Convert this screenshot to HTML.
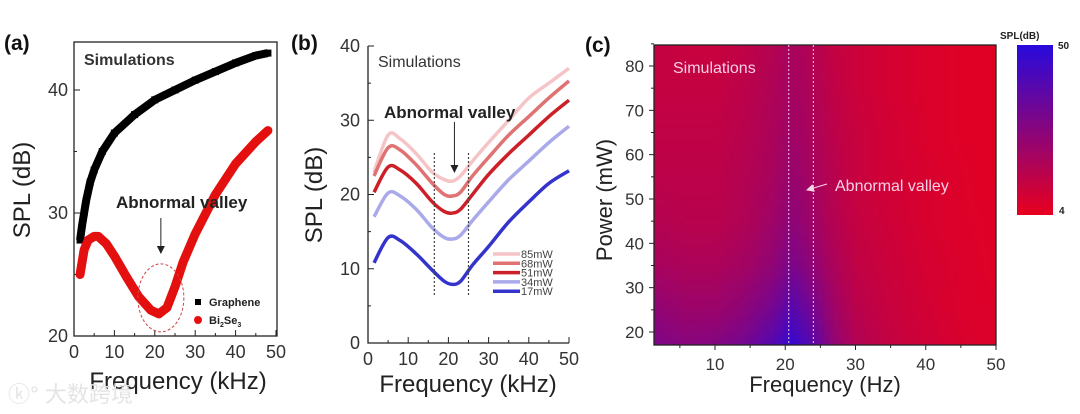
<!DOCTYPE html>
<html><head><meta charset="utf-8">
<style>
body{margin:0;background:#fff;}
svg{display:block;font-family:"Liberation Sans","Noto Sans CJK SC",sans-serif;}
</style></head>
<body>
<svg id="fig" width="1080" height="414" viewBox="0 0 1080 414">
<defs>
<clipPath id="clipC"><rect x="654" y="45" width="342" height="300"/></clipPath>
<linearGradient id="cbar" x1="0" y1="0" x2="0" y2="1"><stop offset="0" stop-color="rgb(40,10,220)"/><stop offset="0.5" stop-color="rgb(136,5,125)"/><stop offset="1" stop-color="rgb(232,0,30)"/></linearGradient>
<marker id="ah" markerWidth="8" markerHeight="8" refX="7" refY="4" orient="auto"><path d="M0,0 L8,4 L0,8 z" fill="#222"/></marker>
<marker id="ahw" markerWidth="8" markerHeight="8" refX="7" refY="4" orient="auto"><path d="M0,0 L8,4 L0,8 z" fill="#f6d8e8"/></marker>
</defs>
<g id="pa"></g>
<g id="pb"></g>
<g id="pc"></g>
<text x="8" y="402" font-size="22" fill="#e4e4e4">ⓚ° 大数跨境</text>
</svg>
<script>
// Panel (a) data
const aFreq = [1.5,2,2.5,3,4,5,7,10,15,20,25,30,35,40,45,48];
const aGraphene = [27.8,29,30,31,32.5,33.5,35,36.5,38,39.2,40,40.8,41.5,42.2,42.8,43];
const aFreqBi = [1.5,2,2.5,3.5,5,6,8,10,13,16,19,21,23,25,27,30,35,40,45,48];
const aBi2Se3 = [25,26,27,27.8,28.1,28.1,27.5,26.5,24.8,23.2,22.1,21.8,22.3,24,26,28.3,31.5,34,35.8,36.7];
const aXTicks = [0,10,20,30,40,50];
const aYTicks = [20,30,40];
// Panel (b) data
const bFreq = [1.5,5,8,12,16,19,21,23,26,30,35,40,45,50];
const bLabels = ["85mW","68mW","51mW","34mW","17mW"];
const b85 = [23,28,27.5,25.5,23,22,21.8,22.5,24.5,27,30,33,35,37];
const b68 = [22.5,26.3,26,24,21.5,20,19.8,20.3,22.5,25,28,30.5,33,35.3];
const b51 = [20.3,23.7,23.3,21.5,19,17.7,17.5,18,20,22.7,25.5,28,30.5,32.7];
const b34 = [17,20.2,19.8,18,15.5,14.2,14,14.5,16.5,19,22,24.5,27,29.2];
const b17 = [10.8,14.2,13.8,12,9.8,8.3,7.9,8.3,10.5,13,16.3,19,21.5,23.2];
const bXTicks = [0,10,20,30,40,50];
const bYTicks = [0,10,20,30,40];
// Panel (c) data
const cFreq = [2,6,10,14,18,21,24,27,30,35,40,45,50];
const cPower = [85,75,65,55,45,35,25,17];
const cSPL = [
[18,17,17,19,22,25,22,18,16,13,11,9,8],
[18,18,18,20,23,26,23,19,16,13,11,9,8],
[19,19,19,21,24,27,24,20,17,14,11,9,8],
[20,20,20,22,25,29,25,21,17,14,12,10,8],
[22,21,21,23,27,31,27,22,18,15,12,10,9],
[25,24,24,26,30,35,30,24,19,16,13,11,9],
[30,28,28,31,36,42,36,27,21,17,14,11,10],
[34,32,33,36,42,48,41,30,23,18,15,12,10]];
const cXTicks = [10,20,30,40,50];
const cYTicks = [20,30,40,50,60,70,80];

const NS="http://www.w3.org/2000/svg";
function mk(parent,tag,attrs,text){const e=document.createElementNS(NS,tag);for(const k in attrs)e.setAttribute(k,attrs[k]);if(text!==undefined)e.textContent=text;parent.appendChild(e);return e;}
function lin(d0,d1,r0,r1){return v=>r0+(v-d0)*(r1-r0)/(d1-d0);}

// ---------- Panel A ----------
(function(){
const g=document.getElementById('pa');
const x=lin(0,50,74,276), y=lin(20,30,336,213);
let e=mk(g,'rect',{x:74,y:42,width:203,height:294,fill:'none',stroke:'#222','stroke-width':1.3});

for(let v=0;v<=50;v+=5){const t=mk(g,'line',{x1:x(v),x2:x(v),y1:336,y2:336-(v%10?3:6),stroke:'#222'});}
for(let v=20;v<=43;v+=5){const t=mk(g,'line',{x1:74,x2:74+(v%10?3:6),y1:y(v),y2:y(v),stroke:'#222'});}
aXTicks.forEach(v=>{const t=mk(g,'text',{x:x(v),y:358,'font-size':18,'text-anchor':'middle',fill:'#333'},v);});
aYTicks.forEach(v=>{const t=mk(g,'text',{x:68,y:y(v)+6,'font-size':18,'text-anchor':'end',fill:'#333'},v);});
const gp=aFreq.map((f,i)=>x(f)+','+y(aGraphene[i])).join(' ');
e=mk(g,'polyline',{points:gp,fill:'none',stroke:'#000','stroke-width':8,'stroke-linejoin':'round'});
aFreq.forEach((f,i)=>{const m=mk(g,'rect',{x:x(f)-3.5,y:y(aGraphene[i])-3.5,width:7,height:7,fill:'#000'});});
const bp=aFreqBi.map((f,i)=>x(f)+','+y(aBi2Se3[i])).join(' ');
e=mk(g,'polyline',{points:bp,fill:'none',stroke:'#e3100f','stroke-width':9,'stroke-linejoin':'round','stroke-linecap':'round'});
aFreqBi.forEach((f,i)=>{const m=mk(g,'circle',{cx:x(f),cy:y(aBi2Se3[i]),r:4,fill:'#e3100f'});});
e=mk(g,'ellipse',{cx:x(21.5),cy:y(23.1),rx:23,ry:34,fill:'none',stroke:'#c44','stroke-width':1,'stroke-dasharray':'3,2'});
e=mk(g,'line',{x1:x(21.5),y1:218,x2:x(21.5),y2:253,stroke:'#222','stroke-width':1,'marker-end':'url(#ah)'});
e=mk(g,'text',{x:116,y:208,'font-size':17,'font-weight':'bold',fill:'#222'},'Abnormal valley');
e=mk(g,'text',{x:84,y:65,'font-size':16,'font-weight':'bold',fill:'#333'},'Simulations');
e=mk(g,'rect',{x:195,y:299,width:6,height:6,fill:'#000'});
e=mk(g,'text',{x:209,y:306,'font-size':11,'font-weight':'bold',fill:'#222'},'Graphene');
e=mk(g,'circle',{cx:198,cy:320,r:4,fill:'#e3100f'});
e=mk(g,'text',{x:209,y:324,'font-size':11,'font-weight':'bold',fill:'#222'});e.innerHTML='Bi<tspan font-size="7" dy="3">2</tspan><tspan dy="-3">Se</tspan><tspan font-size="7" dy="3">3</tspan>';
e=mk(g,'text',{x:30,y:190,'font-size':24,'text-anchor':'middle',fill:'#222',transform:'rotate(-90 30 190)'},'SPL (dB)');
e=mk(g,'text',{x:178,y:389,'font-size':24,'text-anchor':'middle',fill:'#222'},'Frequency (kHz)');
e=mk(g,'text',{x:4,y:50,'font-size':21,'font-weight':'bold',fill:'#111'},'(a)');
})();

// ---------- Panel B ----------
(function(){
const g=document.getElementById('pb');
const x=lin(0,50,368,569), y=lin(0,40,343,46);
let e=mk(g,'path',{d:'M368,46 V343 H569',fill:'none',stroke:'#222','stroke-width':1.3});
for(let v=0;v<=50;v+=5){const t=mk(g,'line',{x1:x(v),x2:x(v),y1:343,y2:343-(v%10?3:6),stroke:'#222'});}
for(let v=0;v<=40;v+=5){const t=mk(g,'line',{x1:368,x2:368+(v%10?3:6),y1:y(v),y2:y(v),stroke:'#222'});}
bXTicks.forEach(v=>{const t=mk(g,'text',{x:x(v),y:365,'font-size':18,'text-anchor':'middle',fill:'#333'},v);});
bYTicks.forEach(v=>{const t=mk(g,'text',{x:360,y:y(v)+6,'font-size':18,'text-anchor':'end',fill:'#333'},v);});
const series=[b85,b68,b51,b34,b17];
const cols=['#f5c4c6','#e07272','#cc1f28','#aaaaea','#3434cc'];
function smooth(pts){let d='M'+pts[0][0]+','+pts[0][1];for(let i=0;i<pts.length-1;i++){const p0=pts[Math.max(0,i-1)],p1=pts[i],p2=pts[i+1],p3=pts[Math.min(pts.length-1,i+2)];d+=' C'+(p1[0]+(p2[0]-p0[0])/6)+','+(p1[1]+(p2[1]-p0[1])/6)+' '+(p2[0]-(p3[0]-p1[0])/6)+','+(p2[1]-(p3[1]-p1[1])/6)+' '+p2[0]+','+p2[1];}return d;}
series.forEach((s,k)=>{const pts=bFreq.map((f,i)=>[x(f),y(s[i])]);const p=mk(g,'path',{d:smooth(pts),fill:'none',stroke:cols[k],'stroke-width':3.5});});
[16.5,25].forEach(f=>{const l=mk(g,'line',{x1:x(f),x2:x(f),y1:153,y2:295,stroke:'#444','stroke-width':1.2,'stroke-dasharray':'2,2'});});
e=mk(g,'line',{x1:x(21.5),y1:122,x2:x(21.5),y2:172,stroke:'#222','stroke-width':1,'marker-end':'url(#ah)'});
e=mk(g,'text',{x:384,y:118,'font-size':17,'font-weight':'bold',fill:'#222'},'Abnormal valley');
e=mk(g,'text',{x:378,y:67,'font-size':16,fill:'#333'},'Simulations');
bLabels.forEach((lab,k)=>{const yy=254+k*9.3;const l=mk(g,'line',{x1:493,x2:520,y1:yy,y2:yy,stroke:cols[k],'stroke-width':3.5});const t=mk(g,'text',{x:521,y:yy+4,'font-size':11,fill:'#444'},lab);});
e=mk(g,'text',{x:322,y:195,'font-size':24,'text-anchor':'middle',fill:'#222',transform:'rotate(-90 322 195)'},'SPL (dB)');
e=mk(g,'text',{x:468,y:392,'font-size':24,'text-anchor':'middle',fill:'#222'},'Frequency (kHz)');
e=mk(g,'text',{x:291,y:50,'font-size':21,'font-weight':'bold',fill:'#111'},'(b)');
})();

// ---------- Panel C ----------
(function(){
const g=document.getElementById('pc');
const x=lin(10,50,715,996), y=lin(20,80,332,66);
const xi=lin(715,996,10,50), yi=lin(332,66,20,80);
function col(v){let t=Math.max(0,Math.min(1,(v-4)/46));t=Math.pow(t,1.4);return 'rgb('+Math.round(232+(40-232)*t)+','+Math.round(0+10*t)+','+Math.round(30+(220-30)*t)+')';}
function idx(arr,v){// fractional index along (possibly descending) array, clamped
  const n=arr.length;const asc=arr[n-1]>arr[0];
  for(let i=0;i<n-1;i++){const a=arr[i],b=arr[i+1];const lo=Math.min(a,b),hi=Math.max(a,b);if(v>=lo&&v<=hi)return i+(v-a)/(b-a);}
  if(asc)return v<arr[0]?0:n-1;return v>arr[0]?0:n-1;}
function sample(f,p){const fi=idx(cFreq,f),pi=idx(cPower,p);const c0=Math.min(Math.floor(fi),cFreq.length-2),r0=Math.min(Math.floor(pi),cPower.length-2);const tx=fi-c0,ty=pi-r0;
  const v00=cSPL[r0][c0],v01=cSPL[r0][c0+1],v10=cSPL[r0+1][c0],v11=cSPL[r0+1][c0+1];
  return (v00*(1-tx)+v01*tx)*(1-ty)+(v10*(1-tx)+v11*tx)*ty;}
const clip=mk(g,'g',{'clip-path':'url(#clipC)'});
const hm=mk(clip,'g',{'shape-rendering':'crispEdges'});

const S=5;
for(let py=45;py<345;py+=S){for(let px=654;px<996;px+=S){const v=sample(xi(px+S/2),yi(py+S/2));const cell=mk(hm,'rect',{x:px,y:py,width:S+0.6,height:S+0.6,fill:col(v)});}}
let e=mk(g,'rect',{x:654,y:45,width:342,height:300,fill:'none',stroke:'#222','stroke-width':1.3});
for(let v=5;v<=50;v+=5){const t=mk(g,'line',{x1:x(v),x2:x(v),y1:345,y2:345+(v%10?3:5),stroke:'#222'});}
for(let v=20;v<=85;v+=5){const t=mk(g,'line',{x1:654,x2:654-(v%10?3:5),y1:y(v),y2:y(v),stroke:'#222'});}
cXTicks.forEach(v=>{const t=mk(g,'text',{x:x(v),y:370,'font-size':17,'text-anchor':'middle',fill:'#333'},v);});
cYTicks.forEach(v=>{const t=mk(g,'text',{x:644,y:y(v)+6,'font-size':17,'text-anchor':'end',fill:'#333'},v);});
[20.5,24].forEach(f=>{const l=mk(g,'line',{x1:x(f),x2:x(f),y1:45,y2:345,stroke:'#f0c8f0','stroke-width':1,'stroke-dasharray':'2,2'});});
e=mk(g,'text',{x:673,y:73,'font-size':16,fill:'#f6d0e6'},'Simulations');
e=mk(g,'text',{x:835,y:191,'font-size':16,fill:'#f6d0e6'},'Abnormal valley');
e=mk(g,'line',{x1:827,y1:184,x2:807,y2:190,stroke:'#f6d8e8','stroke-width':1,'marker-end':'url(#ahw)'});
e=mk(g,'text',{x:612,y:200,'font-size':22,'text-anchor':'middle',fill:'#222',transform:'rotate(-90 612 200)'},'Power (mW)');
e=mk(g,'text',{x:825,y:392,'font-size':22,'text-anchor':'middle',fill:'#222'},'Frequency (Hz)');
e=mk(g,'text',{x:585,y:52,'font-size':21,'font-weight':'bold',fill:'#111'},'(c)');
e=mk(g,'rect',{x:1017,y:45,width:36,height:170,fill:'url(#cbar)'});
e=mk(g,'text',{x:1000,y:39,'font-size':10,'font-weight':'bold',fill:'#222'},'SPL(dB)');
e=mk(g,'text',{x:1058,y:49,'font-size':10,'font-weight':'bold',fill:'#222'},'50');
e=mk(g,'text',{x:1059,y:214,'font-size':10,'font-weight':'bold',fill:'#222'},'4');
})();
</script>
</body></html>
